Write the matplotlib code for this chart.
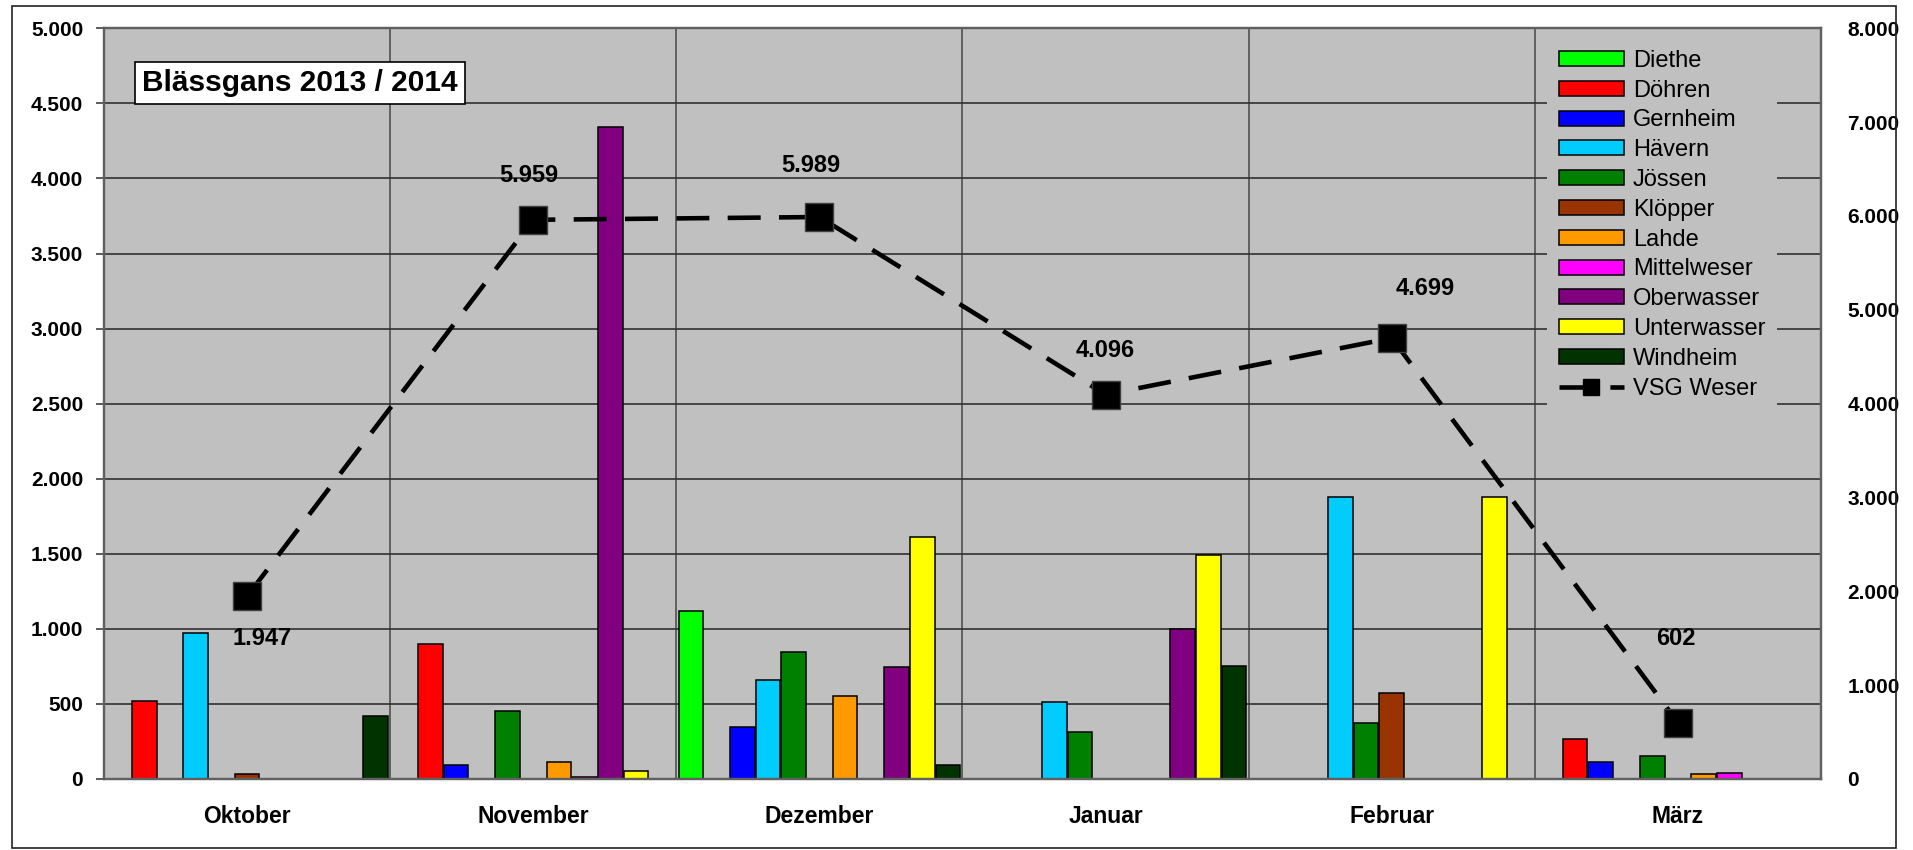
import matplotlib
matplotlib.use("Agg")
import matplotlib.pyplot as plt
import numpy as np
from matplotlib.ticker import FuncFormatter, MultipleLocator
from matplotlib.patches import Patch, Rectangle
from matplotlib.lines import Line2D

plt.rcParams['font.family'] = ['Liberation Sans', 'DejaVu Sans']

months = ["Oktober", "November", "Dezember", "Januar", "Februar", "März"]
series_names = ["Diethe", "Döhren", "Gernheim", "Hävern", "Jössen", "Klöpper",
                "Lahde", "Mittelweser", "Oberwasser", "Unterwasser", "Windheim"]
series_colors = ["#00FF00", "#FF0000", "#0000FF", "#00CCFF", "#008000", "#993300",
                 "#FF9900", "#FF00FF", "#800080", "#FFFF00", "#003300"]

diethe      = [0,    0,    1120, 0,    0,    0]
doehren     = [520,  900,  0,    0,    0,    265]
gernheim    = [0,    90,   345,  0,    0,    115]
haevern     = [970,  0,    660,  515,  1880, 0]
joessen     = [0,    450,  845,  315,  375,  155]
kloepper    = [30,   0,    0,    0,    570,  0]
lahde       = [0,    110,  550,  0,    0,    30]
mittelweser = [0,    10,   0,    0,    0,    40]
oberwasser  = [0,    4345, 745,  1000, 0,    0]
unterwasser = [0,    50,   1610, 1495, 1880, 0]
windheim    = [420,  0,    90,   750,  0,    0]
vsg_weser   = [1947, 5959, 5989, 4096, 4699, 602]

series_values = [diethe, doehren, gernheim, haevern, joessen, kloepper,
                 lahde, mittelweser, oberwasser, unterwasser, windheim]

W, H = 1913, 850
fig = plt.figure(figsize=(W / 100, H / 100), dpi=100)
fig.patch.set_facecolor("white")

# outer chart border
fig.add_artist(Rectangle((12 / W, 2 / H), (1896 - 12) / W, (844 - 2) / H,
                         transform=fig.transFigure, fill=False,
                         edgecolor="#222222", linewidth=1.2))

left, right, top, bottom = 104, 1821, 28.3, 779
ax = fig.add_axes([left / W, (H - bottom) / H, (right - left) / W, (bottom - top) / H])
ax.set_facecolor("#C0C0C0")
ax.set_axisbelow(True)

n = len(series_names)
margin = 0.006
w = (1 - 2 * margin) / n
x = np.arange(len(months))
for i, (name, vals, col) in enumerate(zip(series_names, series_values, series_colors)):
    vals = np.asarray(vals, dtype=float)
    xs = x - 0.5 + margin + (i + 0.5) * w
    mask = vals > 0
    ax.bar(xs[mask], vals[mask], width=w * 0.96, color=col,
           edgecolor="black", linewidth=1.1, zorder=2)

ax.set_xlim(-0.5, len(months) - 0.5)
ax.set_ylim(0, 5000)
ax.yaxis.set_major_locator(MultipleLocator(500))
fmt = FuncFormatter(lambda v, p: f"{int(round(v)):,}".replace(",", "."))
ax.yaxis.set_major_formatter(fmt)
ax.grid(axis="y", color="#303030", linewidth=1.2)
for b in np.arange(0.5, len(months) - 0.5, 1.0):
    ax.axvline(b, color="#505050", linewidth=1.2, zorder=0.5)
ax.set_xticks(x)
ax.set_xticklabels(months, fontsize=16.5, fontweight="bold")
ax.tick_params(axis="x", length=0, pad=19)
ax.tick_params(axis="y", length=6, width=1.2, color="#404040", pad=9,
               labelsize=15)
for lab in ax.get_yticklabels():
    lab.set_fontweight("bold")
for s in ax.spines.values():
    s.set_color("#606060")
    s.set_linewidth(1.6)

ax2 = ax.twinx()
ax2.set_ylim(0, 8000)
ax2.yaxis.set_major_locator(MultipleLocator(1000))
ax2.yaxis.set_major_formatter(fmt)
ax2.tick_params(axis="y", length=0, pad=19, labelsize=15)
for lab in ax2.get_yticklabels():
    lab.set_fontweight("bold")
for s in ax2.spines.values():
    s.set_color("#606060")
    s.set_linewidth(1.6)

ax2.plot(x, vsg_weser, color="black", linewidth=3.3, linestyle=(0, (7.2, 4.0)),
         marker="s", markersize=20, markerfacecolor="black",
         markeredgecolor="#404040", markeredgewidth=1, zorder=5)

label_offsets = [(15, -42), (-4, 44), (-9, 52), (0, 44), (33, 50), (-2, 84)]
for xi, v, (dx, dy) in zip(x, vsg_weser, label_offsets):
    ax2.annotate(f"{v:,}".replace(",", "."), (xi, v), xytext=(dx * 0.72, dy * 0.72),
                 textcoords="offset points", ha="center", va="center",
                 fontsize=17, fontweight="bold", zorder=6)

handles = [Patch(facecolor=c, edgecolor="black", linewidth=1.1) for c in series_colors]
handles.append(Line2D([0], [0], color="black", linewidth=3.3, linestyle=(0, (8.7, 2.4)),
                      marker="s", markersize=11, markerfacecolor="black"))
labels = series_names + ["VSG Weser"]
leg = ax2.legend(handles, labels, loc="upper left",
                 bbox_to_anchor=(1547 / W, (H - 38) / H), bbox_transform=fig.transFigure,
                 fontsize=17, frameon=True, fancybox=False, framealpha=1,
                 facecolor="#C0C0C0", edgecolor="none", borderaxespad=0,
                 borderpad=0.5, labelspacing=0.33, handlelength=2.75,
                 handleheight=0.6, handletextpad=0.38)
leg.set_zorder(10)

fig.text(300 / W, (H - 83) / H, "Blässgans 2013 / 2014", ha="center", va="center",
         fontsize=21.5, fontweight="bold", zorder=20,
         bbox=dict(boxstyle="square,pad=0.25", facecolor="white", edgecolor="black",
                   linewidth=1.2))

fig.savefig("out.png", dpi=100)
